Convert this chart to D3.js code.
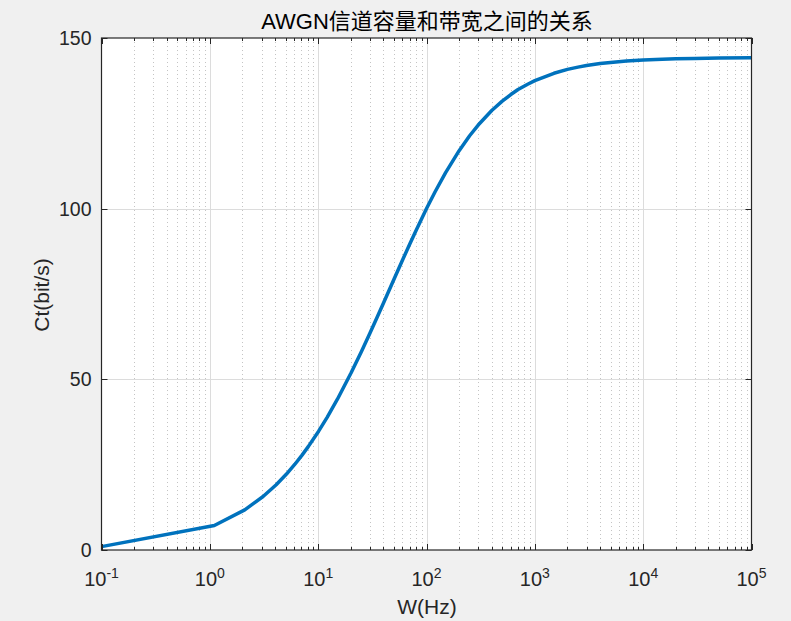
<!DOCTYPE html>
<html><head><meta charset="utf-8">
<script src="https://cdn.jsdelivr.net/npm/d3@7"></script>
<style>
html,body{margin:0;padding:0;background:#f0f0f0;}
svg{display:block;font-family:"Liberation Sans",Arial,"Noto Sans CJK SC",sans-serif;}
</style></head><body>
<svg id="c" width="791" height="621"></svg>
<script>
// Data
const bandwidthHz = [0.1, 1.1, 2.1, 3.1, 4.1, 5.1, 6.1, 7.1, 8.1, 10.1, 12.1, 15.1, 20.1, 25.1, 30.1, 35.1, 40.1, 50.1, 60.1, 70.1, 80.1, 100.1, 120.1, 150.1, 200.1, 250.1, 300.1, 400.1, 500.1, 600.1, 700.1, 850.1, 1000.1, 1500.1, 2000.1, 2500.1, 3000.1, 4000.1, 5000.1, 7000.1, 10000.1, 15000.1, 20000.1, 30000.1, 50000.1, 100000];
const capacity   = [0.997, 7.17, 11.77, 15.67, 19.13, 22.26, 25.13, 27.80, 30.28, 34.81, 38.86, 44.25, 51.84, 58.17, 63.57, 68.25, 72.37, 79.31, 84.95, 89.66, 93.63, 100.03, 104.96, 110.56, 117.0, 121.37, 124.5, 128.77, 131.5, 133.43, 134.9, 136.39, 137.5, 139.67, 140.8, 141.46, 141.92, 142.50, 142.85, 143.24, 143.55, 143.79, 143.9, 144.03, 144.13, 144.2];
const xTickValues = [0.1, 1, 10, 100, 1000, 10000, 100000];
const xTickExponents = ["-1", "0", "1", "2", "3", "4", "5"];
const yTickValues = [0, 50, 100, 150];
const titleText = "AWGN信道容量和带宽之间的关系";
const xLabelText = "W(Hz)";
const yLabelText = "Ct(bit/s)";

const svg = d3.select("#c");
const L = 101.5, R = 751.5, T = 38, B = 550;
const x = d3.scaleLog().domain([0.1, 100000]).range([L, R]);
const y = d3.scaleLinear().domain([0, 150]).range([B, T]);

// plot background
svg.append("rect").attr("x", L).attr("y", T).attr("width", R - L).attr("height", B - T).attr("fill", "#fff");

// minor tick values
const minor = [];
for (let e = -1; e < 5; e++) for (let m = 2; m <= 9; m++) minor.push(m * Math.pow(10, e));

const g = svg.append("g");
// minor grid (dotted)
g.selectAll(".mg").data(minor).join("line")
  .attr("x1", d => Math.round(x(d)) + 0.5).attr("x2", d => Math.round(x(d)) + 0.5)
  .attr("y1", T).attr("y2", B)
  .attr("stroke", "#c4c4c4").attr("stroke-width", 1).attr("stroke-dasharray", "1,3");
// major grid
g.selectAll(".xg").data(xTickValues.slice(1, -1)).join("line")
  .attr("x1", d => Math.round(x(d)) + 0.5).attr("x2", d => Math.round(x(d)) + 0.5)
  .attr("y1", T).attr("y2", B).attr("stroke", "#dcdcdc").attr("stroke-width", 1);
g.selectAll(".yg").data(yTickValues.slice(1, -1)).join("line")
  .attr("y1", d => Math.round(y(d)) + 0.5).attr("y2", d => Math.round(y(d)) + 0.5)
  .attr("x1", L).attr("x2", R).attr("stroke", "#dcdcdc").attr("stroke-width", 1);

// line
const line = d3.line().x((d, i) => x(bandwidthHz[i])).y(d => y(d)).curve(d3.curveLinear);
svg.append("path").datum(capacity).attr("d", line)
  .attr("fill", "none").attr("stroke", "#0072BD").attr("stroke-width", 3.5)
  .attr("stroke-linejoin", "round");

// ticks (inside), bottom and top
const axisColor = "#262626";
const tk = svg.append("g").attr("stroke", axisColor).attr("stroke-width", 1);
xTickValues.forEach(v => {
  const px = Math.round(x(v)) + 0.5;
  tk.append("line").attr("x1", px).attr("x2", px).attr("y1", B).attr("y2", B - 6);
  tk.append("line").attr("x1", px).attr("x2", px).attr("y1", T).attr("y2", T + 6);
});
minor.forEach(v => {
  const px = Math.round(x(v)) + 0.5;
  tk.append("line").attr("x1", px).attr("x2", px).attr("y1", B).attr("y2", B - 3);
  tk.append("line").attr("x1", px).attr("x2", px).attr("y1", T).attr("y2", T + 3);
});
yTickValues.forEach(v => {
  const py = Math.round(y(v)) + 0.5;
  tk.append("line").attr("x1", L).attr("x2", L + 6).attr("y1", py).attr("y2", py);
  tk.append("line").attr("x1", R).attr("x2", R - 6).attr("y1", py).attr("y2", py);
});
// box
svg.append("rect").attr("x", L).attr("y", T).attr("width", R - L).attr("height", B - T)
  .attr("fill", "none").attr("stroke", axisColor).attr("stroke-width", 1.2);

// y tick labels
svg.append("g").selectAll("text").data(yTickValues).join("text")
  .attr("x", L - 10).attr("y", d => y(d) + 7).attr("text-anchor", "end")
  .attr("font-size", 19.5).attr("fill", axisColor).text(d => d);

// x tick labels with superscripts
const xl = svg.append("g");
xTickValues.forEach((v, i) => {
  const t = xl.append("text").attr("x", x(v)).attr("y", 586).attr("text-anchor", "middle")
    .attr("font-size", 20).attr("fill", axisColor);
  t.append("tspan").text("10");
  t.append("tspan").attr("dy", -8.5).attr("font-size", 14).text(xTickExponents[i]);
});

// title and axis labels
svg.append("text").attr("x", 427).attr("y", 29).attr("text-anchor", "middle")
  .attr("font-size", 22).attr("fill", "#000").text(titleText);
svg.append("text").attr("x", 427).attr("y", 614).attr("text-anchor", "middle")
  .attr("font-size", 21).attr("fill", axisColor).text(xLabelText);
svg.append("text").attr("transform", "translate(49,295) rotate(-90)").attr("text-anchor", "middle")
  .attr("font-size", 21).attr("fill", axisColor).text(yLabelText);
</script>
</body></html>
